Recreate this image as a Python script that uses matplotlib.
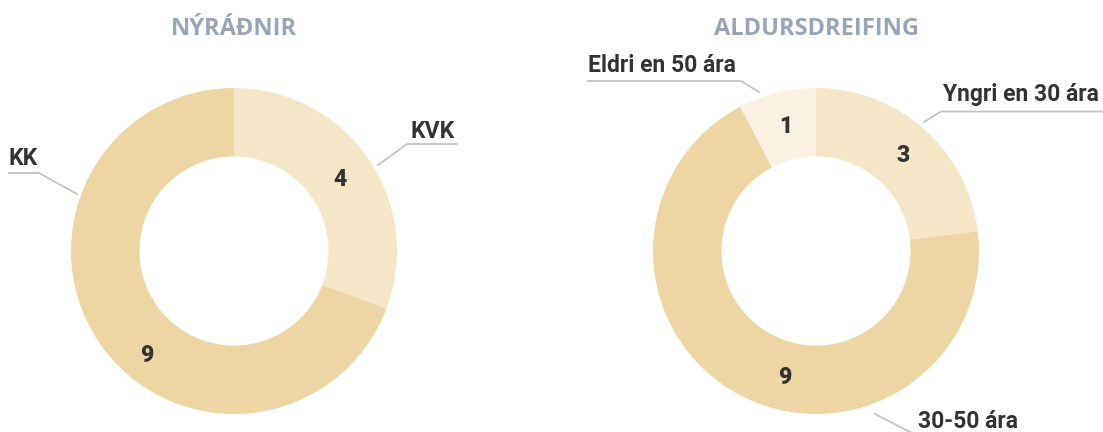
import matplotlib
matplotlib.use("Agg")
import matplotlib.pyplot as plt
from matplotlib.lines import Line2D

W, H = 1103, 432

# Data
gender_labels = ["KVK", "KK"]
gender_values = [4, 9]
gender_colors = ["#f5e6c8", "#eed5a4"]

age_labels = ["Yngri en 30 ára", "30-50 ára", "Eldri en 50 ára"]
age_values = [3, 9, 1]
age_colors = ["#f5e6c8", "#eed5a4", "#faf1e2"]

titles = ["NÝRÁÐNIR", "ALDURSDREIFING"]

plt.rcParams['font.family'] = ['Roboto', 'DejaVu Sans']
fig = plt.figure(figsize=(W / 100, H / 100), dpi=100)

def fx(x):
    return x / W

def fy(y):
    return 1 - y / H

TXT = "#333333"
LINE = "#c4c4c4"
FS = 16.5

def donut(cx, cy, R, values, colors):
    ax = fig.add_axes([fx(cx - R), fy(cy + R), 2 * R / W, 2 * R / H])
    wedges, _ = ax.pie(values, colors=colors, startangle=90, counterclock=False,
                       radius=1.0, wedgeprops=dict(width=0.42, linewidth=0))
    ax.set_xlim(-1, 1)
    ax.set_ylim(-1, 1)
    ax.set_aspect('auto')
    ax.axis('off')
    return ax

ax1 = donut(234, 251, 163, gender_values, gender_colors)
ax2 = donut(816, 251, 163, age_values, age_colors)

# value labels (placed in figure pixels)
def val(x, y, v):
    fig.text(fx(x), fy(y), str(v), ha='center', va='center', fontsize=FS,
             fontweight='heavy', color=TXT)

val(340, 179, gender_values[0])
val(147, 356, gender_values[1])
val(903, 156, age_values[0])
val(785, 378, age_values[1])
val(786, 126, age_values[2])

# titles
for x, t in zip([234, 817], titles):
    fig.text(fx(x), fy(35), t, ha='center', va='baseline', fontsize=17,
             fontweight='bold', color="#99a4b8",
             family=['Open Sans', 'DejaVu Sans'])

# category labels with leader lines
def lab(text, tx, ty, ha, pts):
    fig.text(fx(tx), fy(ty), text, ha=ha, va='baseline', fontsize=FS,
             fontweight='bold', color=TXT)
    xs = [fx(p[0]) for p in pts]
    ys = [fy(p[1]) for p in pts]
    fig.add_artist(Line2D(xs, ys, color=LINE, lw=1.3, transform=fig.transFigure))

lab(gender_labels[0], 410, 138, 'left', [(378, 165), (407, 144), (457, 144)])
lab(gender_labels[1], 9, 165, 'left', [(77, 194), (39, 173), (9, 173)])
lab(age_labels[0], 943, 101, 'left', [(924, 122), (941, 111.5), (1103, 111.5)])
lab(age_labels[2], 588, 72, 'left', [(759, 92), (741, 81), (588, 81)])
lab(age_labels[1], 918, 428, 'left', [(875, 414), (912, 433), (1000, 433)])

fig.savefig("out.png", dpi=100)
